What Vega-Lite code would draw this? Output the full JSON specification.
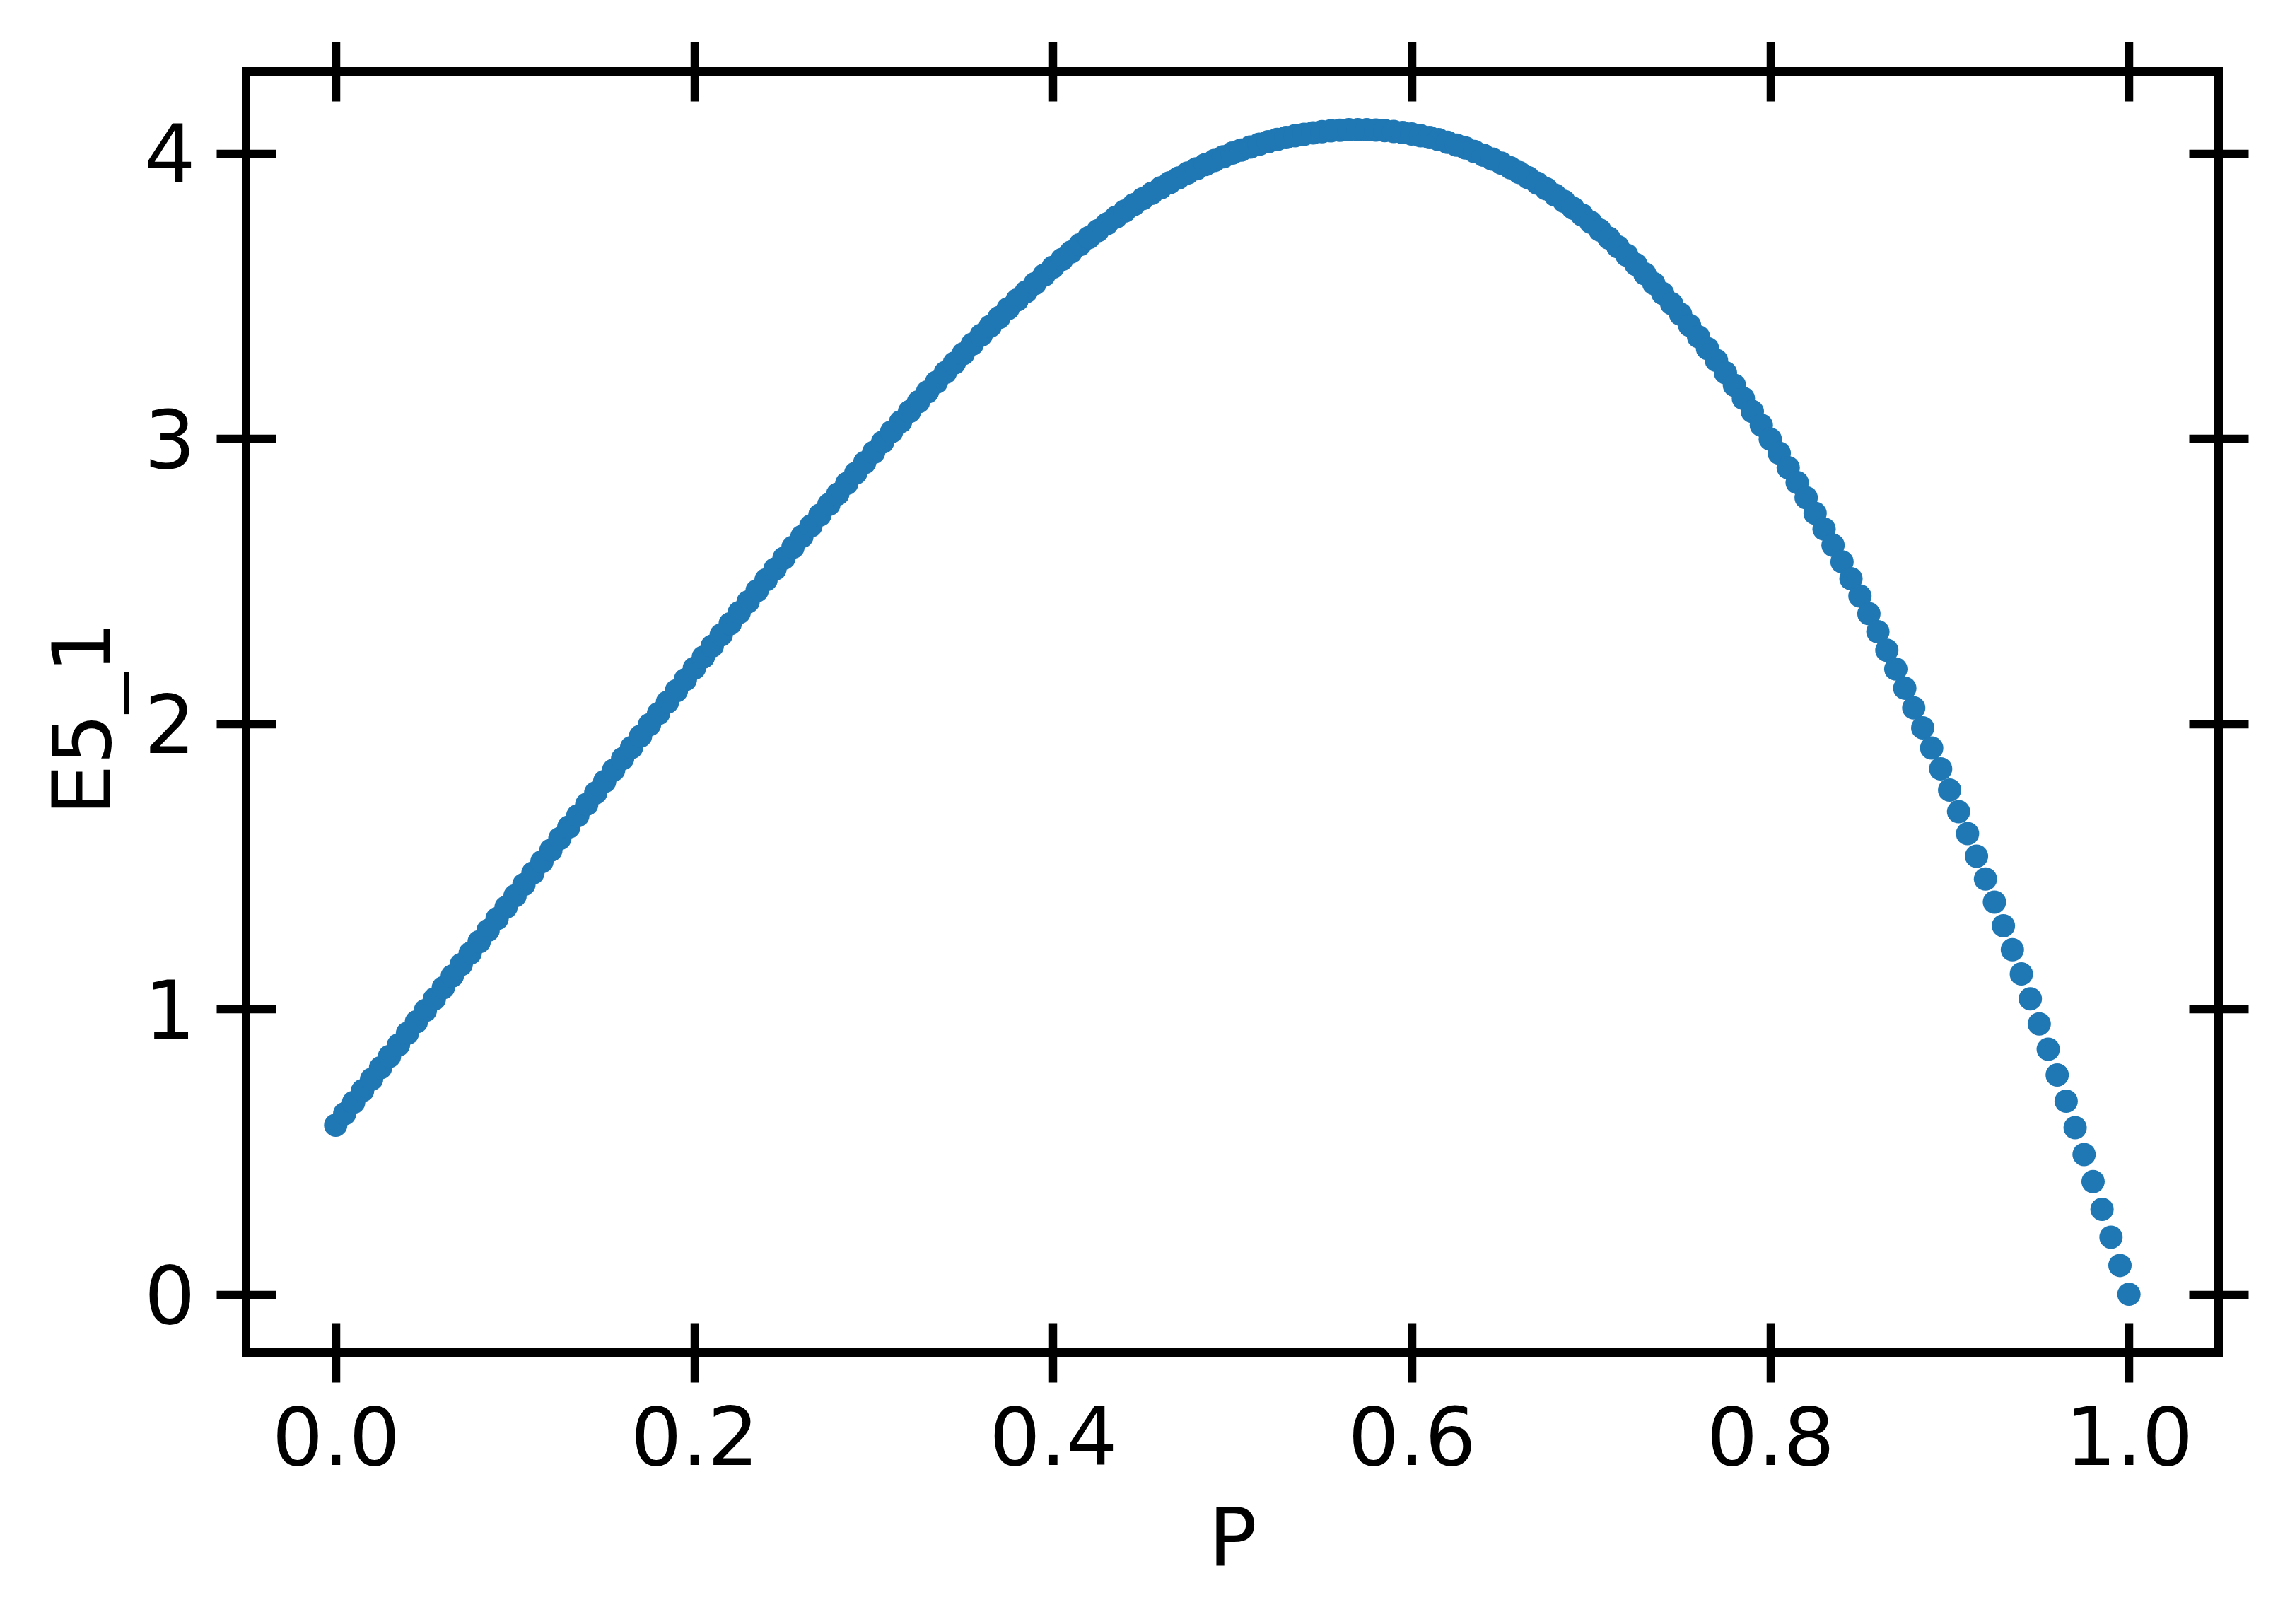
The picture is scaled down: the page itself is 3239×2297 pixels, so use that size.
{
  "$schema": "https://vega.github.io/schema/vega-lite/v6.json",
  "autosize": {"type": "none"},
  "padding": {"left": 348, "top": 101, "right": 101, "bottom": 384},
  "width": 2790,
  "height": 1812,
  "background": "white",
  "config": {
    "view": {"stroke": "black", "strokeWidth": 12},
    "axis": {
      "domain": false,
      "grid": false,
      "labelFont": "DejaVu Sans",
      "labelFontSize": 114,
      "labelColor": "black",
      "labelLimit": 0,
      "titleFont": "DejaVu Sans",
      "titleFontSize": 114,
      "titleFontWeight": "normal",
      "titleColor": "black",
      "titleLimit": 0,
      "tickColor": "black",
      "tickWidth": 11.5,
      "labelFlush": false,
      "labelOverlap": false
    }
  },
  "data": {"values": [
    {"P":0.000,"E5_1":0.593},{"P":0.005,"E5_1":0.633},{"P":0.010,"E5_1":0.673},{"P":0.015,"E5_1":0.714},{"P":0.020,"E5_1":0.754},
    {"P":0.025,"E5_1":0.794},{"P":0.030,"E5_1":0.834},{"P":0.035,"E5_1":0.874},{"P":0.040,"E5_1":0.915},{"P":0.045,"E5_1":0.955},
    {"P":0.050,"E5_1":0.995},{"P":0.055,"E5_1":1.035},{"P":0.060,"E5_1":1.075},{"P":0.065,"E5_1":1.116},{"P":0.070,"E5_1":1.156},
    {"P":0.075,"E5_1":1.196},{"P":0.080,"E5_1":1.236},{"P":0.085,"E5_1":1.276},{"P":0.090,"E5_1":1.317},{"P":0.095,"E5_1":1.357},
    {"P":0.100,"E5_1":1.397},{"P":0.105,"E5_1":1.437},{"P":0.110,"E5_1":1.477},{"P":0.115,"E5_1":1.517},{"P":0.120,"E5_1":1.557},
    {"P":0.125,"E5_1":1.598},{"P":0.130,"E5_1":1.638},{"P":0.135,"E5_1":1.678},{"P":0.140,"E5_1":1.718},{"P":0.145,"E5_1":1.758},
    {"P":0.150,"E5_1":1.798},{"P":0.155,"E5_1":1.838},{"P":0.160,"E5_1":1.878},{"P":0.165,"E5_1":1.917},{"P":0.170,"E5_1":1.957},
    {"P":0.175,"E5_1":1.997},{"P":0.180,"E5_1":2.036},{"P":0.185,"E5_1":2.076},{"P":0.190,"E5_1":2.116},{"P":0.195,"E5_1":2.155},
    {"P":0.200,"E5_1":2.195},{"P":0.205,"E5_1":2.234},{"P":0.210,"E5_1":2.273},{"P":0.215,"E5_1":2.312},{"P":0.220,"E5_1":2.351},
    {"P":0.225,"E5_1":2.390},{"P":0.230,"E5_1":2.428},{"P":0.235,"E5_1":2.467},{"P":0.240,"E5_1":2.505},{"P":0.245,"E5_1":2.543},
    {"P":0.250,"E5_1":2.581},{"P":0.255,"E5_1":2.619},{"P":0.260,"E5_1":2.657},{"P":0.265,"E5_1":2.694},{"P":0.270,"E5_1":2.732},
    {"P":0.275,"E5_1":2.769},{"P":0.280,"E5_1":2.806},{"P":0.285,"E5_1":2.843},{"P":0.290,"E5_1":2.879},{"P":0.295,"E5_1":2.916},
    {"P":0.300,"E5_1":2.952},{"P":0.305,"E5_1":2.988},{"P":0.310,"E5_1":3.024},{"P":0.315,"E5_1":3.059},{"P":0.320,"E5_1":3.095},
    {"P":0.325,"E5_1":3.129},{"P":0.330,"E5_1":3.164},{"P":0.335,"E5_1":3.198},{"P":0.340,"E5_1":3.232},{"P":0.345,"E5_1":3.265},
    {"P":0.350,"E5_1":3.298},{"P":0.355,"E5_1":3.331},{"P":0.360,"E5_1":3.363},{"P":0.365,"E5_1":3.394},{"P":0.370,"E5_1":3.425},
    {"P":0.375,"E5_1":3.456},{"P":0.380,"E5_1":3.486},{"P":0.385,"E5_1":3.515},{"P":0.390,"E5_1":3.544},{"P":0.395,"E5_1":3.573},
    {"P":0.400,"E5_1":3.601},{"P":0.405,"E5_1":3.628},{"P":0.410,"E5_1":3.654},{"P":0.415,"E5_1":3.680},{"P":0.420,"E5_1":3.705},
    {"P":0.425,"E5_1":3.729},{"P":0.430,"E5_1":3.753},{"P":0.435,"E5_1":3.776},{"P":0.440,"E5_1":3.798},{"P":0.445,"E5_1":3.820},
    {"P":0.450,"E5_1":3.841},{"P":0.455,"E5_1":3.860},{"P":0.460,"E5_1":3.879},{"P":0.465,"E5_1":3.897},{"P":0.470,"E5_1":3.914},
    {"P":0.475,"E5_1":3.931},{"P":0.480,"E5_1":3.946},{"P":0.485,"E5_1":3.961},{"P":0.490,"E5_1":3.975},{"P":0.495,"E5_1":3.988},
    {"P":0.500,"E5_1":4.001},{"P":0.505,"E5_1":4.012},{"P":0.510,"E5_1":4.022},{"P":0.515,"E5_1":4.032},{"P":0.520,"E5_1":4.041},
    {"P":0.525,"E5_1":4.049},{"P":0.530,"E5_1":4.056},{"P":0.535,"E5_1":4.062},{"P":0.540,"E5_1":4.067},{"P":0.545,"E5_1":4.072},
    {"P":0.550,"E5_1":4.076},{"P":0.555,"E5_1":4.079},{"P":0.560,"E5_1":4.081},{"P":0.565,"E5_1":4.083},{"P":0.570,"E5_1":4.083},
    {"P":0.575,"E5_1":4.083},{"P":0.580,"E5_1":4.082},{"P":0.585,"E5_1":4.080},{"P":0.590,"E5_1":4.077},{"P":0.595,"E5_1":4.073},
    {"P":0.600,"E5_1":4.068},{"P":0.605,"E5_1":4.062},{"P":0.610,"E5_1":4.056},{"P":0.615,"E5_1":4.048},{"P":0.620,"E5_1":4.039},
    {"P":0.625,"E5_1":4.029},{"P":0.630,"E5_1":4.019},{"P":0.635,"E5_1":4.007},{"P":0.640,"E5_1":3.994},{"P":0.645,"E5_1":3.980},
    {"P":0.650,"E5_1":3.966},{"P":0.655,"E5_1":3.950},{"P":0.660,"E5_1":3.933},{"P":0.665,"E5_1":3.915},{"P":0.670,"E5_1":3.896},
    {"P":0.675,"E5_1":3.876},{"P":0.680,"E5_1":3.854},{"P":0.685,"E5_1":3.832},{"P":0.690,"E5_1":3.808},{"P":0.695,"E5_1":3.784},
    {"P":0.700,"E5_1":3.758},{"P":0.705,"E5_1":3.731},{"P":0.710,"E5_1":3.703},{"P":0.715,"E5_1":3.673},{"P":0.720,"E5_1":3.643},
    {"P":0.725,"E5_1":3.611},{"P":0.730,"E5_1":3.578},{"P":0.735,"E5_1":3.544},{"P":0.740,"E5_1":3.509},{"P":0.745,"E5_1":3.473},
    {"P":0.750,"E5_1":3.436},{"P":0.755,"E5_1":3.397},{"P":0.760,"E5_1":3.357},{"P":0.765,"E5_1":3.316},{"P":0.770,"E5_1":3.274},
    {"P":0.775,"E5_1":3.231},{"P":0.780,"E5_1":3.187},{"P":0.785,"E5_1":3.141},{"P":0.790,"E5_1":3.095},{"P":0.795,"E5_1":3.047},
    {"P":0.800,"E5_1":2.998},{"P":0.805,"E5_1":2.949},{"P":0.810,"E5_1":2.898},{"P":0.815,"E5_1":2.846},{"P":0.820,"E5_1":2.793},
    {"P":0.825,"E5_1":2.738},{"P":0.830,"E5_1":2.683},{"P":0.835,"E5_1":2.626},{"P":0.840,"E5_1":2.568},{"P":0.845,"E5_1":2.509},
    {"P":0.850,"E5_1":2.448},{"P":0.855,"E5_1":2.386},{"P":0.860,"E5_1":2.323},{"P":0.865,"E5_1":2.258},{"P":0.870,"E5_1":2.192},
    {"P":0.875,"E5_1":2.125},{"P":0.880,"E5_1":2.056},{"P":0.885,"E5_1":1.986},{"P":0.890,"E5_1":1.915},{"P":0.895,"E5_1":1.842},
    {"P":0.900,"E5_1":1.768},{"P":0.905,"E5_1":1.692},{"P":0.910,"E5_1":1.615},{"P":0.915,"E5_1":1.536},{"P":0.920,"E5_1":1.456},
    {"P":0.925,"E5_1":1.375},{"P":0.930,"E5_1":1.292},{"P":0.935,"E5_1":1.208},{"P":0.940,"E5_1":1.123},{"P":0.945,"E5_1":1.036},
    {"P":0.950,"E5_1":0.948},{"P":0.955,"E5_1":0.859},{"P":0.960,"E5_1":0.769},{"P":0.965,"E5_1":0.677},{"P":0.970,"E5_1":0.584},
    {"P":0.975,"E5_1":0.490},{"P":0.980,"E5_1":0.395},{"P":0.985,"E5_1":0.298},{"P":0.990,"E5_1":0.200},{"P":0.995,"E5_1":0.101},
    {"P":1.000,"E5_1":0.000}
  ]},
  "layer": [
    {
      "mark": {"type": "circle", "size": 1089, "opacity": 1, "color": "#1f77b4"},
      "encoding": {
        "x": {
          "field": "P", "type": "quantitative",
          "scale": {"domain": [-0.05, 1.05], "nice": false, "zero": false},
          "axis": {
            "orient": "bottom", "title": "P",
            "values": [0, 0.2, 0.4, 0.6, 0.8, 1.0], "format": ".1f",
            "offset": -42, "tickSize": 84,
            "labelPadding": 116, "labelBaseline": "alphabetic",
            "titleBaseline": "alphabetic", "titleY": 342
          }
        },
        "y": {
          "field": "E5_1", "type": "quantitative",
          "scale": {"domain": [-0.2042, 4.2875], "nice": false, "zero": false},
          "axis": {
            "orient": "left", "title": "E5_1",
            "values": [0, 1, 2, 3, 4], "format": "d",
            "offset": -42, "tickSize": 84,
            "labelPadding": 30, "labelBaseline": "alphabetic", "labelOffset": 41,
            "titleBaseline": "alphabetic", "titleAlign": "center",
            "titleX": -235, "titleY": 915
          }
        }
      }
    },
    {
      "mark": {"type": "point", "opacity": 0},
      "encoding": {
        "x": {
          "field": "P", "type": "quantitative",
          "scale": {"domain": [-0.05, 1.05], "nice": false, "zero": false},
          "axis": {
            "orient": "top", "title": null, "labels": false,
            "values": [0, 0.2, 0.4, 0.6, 0.8, 1.0],
            "offset": -42, "tickSize": 84
          }
        },
        "y": {
          "field": "E5_1", "type": "quantitative",
          "scale": {"domain": [-0.2042, 4.2875], "nice": false, "zero": false},
          "axis": {
            "orient": "right", "title": null, "labels": false,
            "values": [0, 1, 2, 3, 4],
            "offset": -42, "tickSize": 84
          }
        }
      }
    }
  ],
  "resolve": {"axis": {"x": "independent", "y": "independent"}}
}
